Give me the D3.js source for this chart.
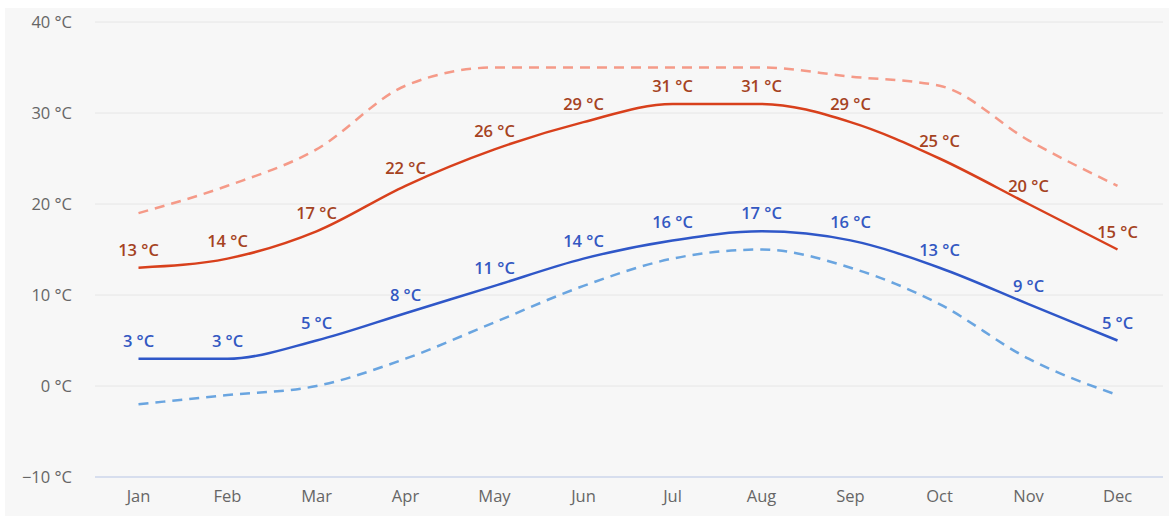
<!DOCTYPE html>
<html>
<head>
<meta charset="utf-8">
<script src="https://cdn.jsdelivr.net/npm/d3@7/dist/d3.min.js"></script>
<style>
  html, body { margin: 0; padding: 0; background: #ffffff; }
  svg { display: block; font-family: "Open Sans", "Noto Sans", sans-serif; }
</style>
</head>
<body>
<svg id="chart" width="1169" height="516"></svg>
<script>
const months = ["Jan","Feb","Mar","Apr","May","Jun","Jul","Aug","Sep","Oct","Nov","Dec"];
const avgHigh = [13,14,17,22,26,29,31,31,29,25,20,15];
const avgLow  = [3,3,5,8,11,14,16,17,16,13,9,5];
const recHigh = [19,22,26,33,35,35,35,35,34,33,27,22];
const recLow  = [-2,-1,0,3,7,11,14,15,13,9,3,-1];
const yTicks  = [-10,0,10,20,30,40];

const svg = d3.select("#chart");
const W = 1169, H = 516;

svg.append("rect").attr("x", 5).attr("y", 8).attr("width", W - 5).attr("height", H - 8).attr("fill", "#f7f7f7");

const x = d3.scaleBand().domain(months).range([94, 1162]);
const y = d3.scaleLinear().domain([-10, 40]).range([477, 22]);
const cx = m => x(m) + x.bandwidth() / 2;

// grid
svg.append("g").selectAll("line").data(yTicks.filter(t => t !== -10)).join("line")
  .attr("x1", 95).attr("x2", 1163)
  .attr("y1", d => y(d)).attr("y2", d => y(d))
  .attr("stroke", "#e6e6e6").attr("stroke-width", 1);

// x axis line
svg.append("line").attr("x1", 95).attr("x2", 1163).attr("y1", y(-10)).attr("y2", y(-10))
  .attr("stroke", "#ccd6eb").attr("stroke-width", 1.5);

// y axis labels
const yAxis = d3.axisLeft(y).tickValues(yTicks).tickSize(0).tickPadding(0).tickFormat(d => (d < 0 ? "\u2212" + Math.abs(d) : d) + " \u00B0C");
const gy = svg.append("g").attr("transform", "translate(72,0)").call(yAxis);
gy.select(".domain").remove();
gy.selectAll("text").attr("fill", "#666666").style("font-size", "16.5px").style("font-family", "\"Open Sans\", sans-serif");

// x axis labels
const xAxis = d3.axisBottom(x).tickSize(0).tickPadding(0);
const gx = svg.append("g").attr("transform", "translate(0,490)").call(xAxis);
gx.select(".domain").remove();
gx.selectAll("text").attr("fill", "#666666").style("font-size", "16.5px").style("font-family", "\"Open Sans\", sans-serif");

const line = d3.line().x((d, i) => cx(months[i])).y(d => y(d)).curve(d3.curveMonotoneX);

const series = [
  { data: recHigh, color: "#f59a88", dash: "10,7" },
  { data: recLow,  color: "#6aa5e0", dash: "10,7" },
  { data: avgHigh, color: "#d8401c", dash: null, label: "#a5431f" },
  { data: avgLow,  color: "#2f57c8", dash: null, label: "#3358c2" }
];

series.forEach(s => {
  svg.append("path").datum(s.data)
    .attr("d", line)
    .attr("fill", "none")
    .attr("stroke", s.color)
    .attr("stroke-width", 2.5)
    .attr("stroke-linecap", "butt")
    .attr("stroke-dasharray", s.dash);
});

series.filter(s => s.label).forEach(s => {
  svg.append("g").selectAll("text").data(s.data).join("text")
    .attr("x", (d, i) => cx(months[i]))
    .attr("y", d => y(d) - 12)
    .attr("text-anchor", "middle")
    .attr("fill", s.label)
    .style("font-size", "16.5px")
    .style("font-weight", "600")
    .text(d => d + " \u00B0C");
});
</script>
</body>
</html>
